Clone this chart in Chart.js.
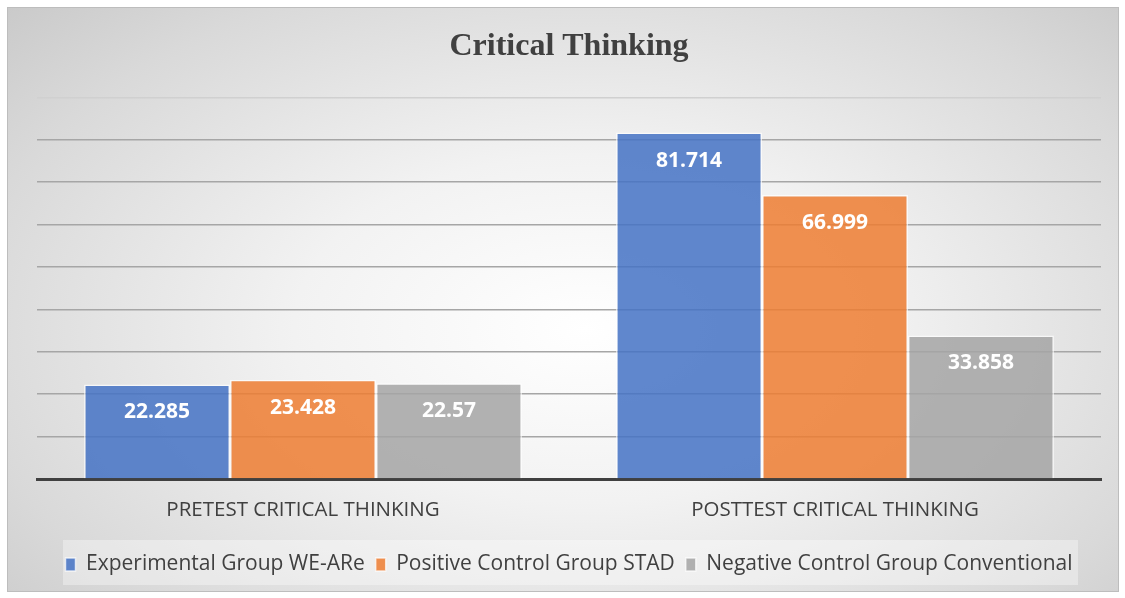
<!DOCTYPE html>
<html>
<head>
<meta charset="utf-8">
<script src="https://cdn.jsdelivr.net/npm/chart.js@4.4.0/dist/chart.umd.min.js"></script>
<style>
  html, body { margin: 0; padding: 0; background: #fff; }
  #box {
    position: absolute; left: 7px; top: 7px; width: 1110px; height: 583px;
    border: 1px solid #bdbdbd;
    background: radial-gradient(ellipse 75% 85% at 52% 55%, #ffffff 0%, #f2f2f2 35%, #d9d9d9 75%, #c6c6c6 100%);
  }
</style>
</head>
<body>
<div id="box"><canvas id="criticalChart" width="1110" height="583"></canvas></div>
<script>
const categories = ['PRETEST CRITICAL THINKING', 'POSTTEST CRITICAL THINKING'];
const seriesNames = ['Experimental Group WE-ARe', 'Positive Control Group STAD', 'Negative Control Group Conventional'];
const experimental = [22.285, 81.714];
const positiveControl = [23.428, 66.999];
const negativeControl = [22.57, 33.858];
const valueLabels = [['22.285', '81.714'], ['23.428', '66.999'], ['22.57', '33.858']];

const fillColors = ['rgba(68, 114, 196, 0.85)', 'rgba(237, 125, 49, 0.85)', 'rgba(165, 165, 165, 0.85)'];

// labels inside the bar tops
const barLabels = {
    id: 'barLabels',
    afterDatasetsDraw(chart) {
        const ctx = chart.ctx;
        ctx.save();
        ctx.fillStyle = '#ffffff';
        ctx.font = 'bold 21px "Open Sans", sans-serif';
        ctx.textAlign = 'center';
        ctx.textBaseline = 'middle';
        chart.data.datasets.forEach((ds, i) => {
            chart.getDatasetMeta(i).data.forEach((bar, j) => {
                ctx.fillText(valueLabels[i][j], bar.x, bar.y + 28);
            });
        });
        ctx.restore();
    }
};

// light panel behind the legend
const legendPanel = {
    id: 'legendPanel',
    beforeDraw(chart) {
        const ctx = chart.ctx;
        ctx.save();
        ctx.fillStyle = 'rgba(255, 255, 255, 0.35)';
        ctx.fillRect(55, 532, 1015, 45);
        ctx.restore();
    }
};

new Chart(document.getElementById('criticalChart').getContext('2d'), {
    type: 'bar',
    data: {
        labels: categories,
        datasets: [
            { label: seriesNames[0], data: experimental, backgroundColor: fillColors[0] },
            { label: seriesNames[1], data: positiveControl, backgroundColor: fillColors[1] },
            { label: seriesNames[2], data: negativeControl, backgroundColor: fillColors[2] }
        ].map(d => Object.assign(d, {
            borderColor: 'rgba(255, 255, 255, 0.7)',
            borderWidth: 1.5,
            categoryPercentage: 0.823,
            barPercentage: 1
        }))
    },
    options: {
        responsive: false,
        animation: false,
        layout: { padding: { left: 29, right: 17, top: 0, bottom: 6 } },
        scales: {
            x: {
                grid: { display: false },
                border: { color: '#404040', width: 3 },
                ticks: { color: '#404040', font: { family: '"Open Sans", sans-serif', size: 20.5 }, padding: 11 },
                afterFit(scale) { scale.height = 64; }
            },
            y: {
                min: 0,
                max: 90,
                ticks: { stepSize: 10, display: false },
                border: { display: false },
                grid: {
                    color: (c) => (c.tick && c.tick.value === 90) ? '#d0d0d0' : '#a6a6a6',
                    lineWidth: 1.5,
                    drawTicks: false
                }
            }
        },
        plugins: {
            title: {
                display: true,
                text: 'Critical Thinking',
                color: '#404040',
                font: { family: '"Liberation Serif", serif', size: 32, weight: 'bold' },
                padding: { top: 20, bottom: 31 }
            },
            legend: {
                position: 'bottom',
                labels: {
                    color: '#404040',
                    font: { family: '"Open Sans", sans-serif', size: 21 },
                    boxWidth: 10,
                    boxHeight: 13,
                    padding: 11
                }
            },
            tooltip: { enabled: false }
        }
    },
    plugins: [barLabels, legendPanel]
});
</script>
</body>
</html>
